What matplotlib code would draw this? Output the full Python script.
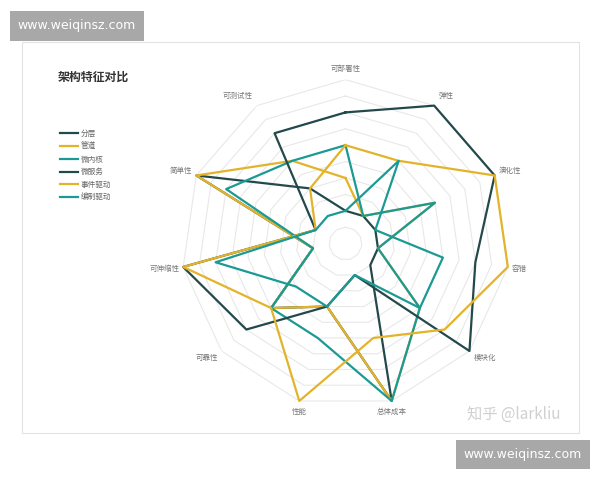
import numpy as np
import matplotlib.pyplot as plt
from matplotlib.patches import Rectangle

plt.rcParams['font.family'] = ['Noto Sans CJK SC', 'DejaVu Sans']

# axes of the radar, clockwise from the top
axis_names = ['可部署性', '弹性', '演化性', '容错', '模块化', '总体成本',
              '性能', '可靠性', '可伸缩性', '简单性', '可测试性']

series_names = ['分层', '管道', '微内核', '微服务', '事件驱动', '编制驱动']
layered = [1, 1, 1, 1, 1, 5, 2, 3, 1, 5, 2]
pipeline = [2, 1, 3, 1, 3, 5, 2, 3, 1, 5, 3]
microkernel = [3, 1, 3, 1, 3, 5, 3, 3, 1, 4, 3]
microservices = [4, 5, 5, 4, 5, 1, 2, 4, 5, 1, 4]
event_driven = [3, 3, 5, 5, 4, 3, 5, 3, 5, 1, 2]
orchestration = [1, 3, 1, 3, 3, 1, 2, 2, 4, 1, 1]
series_values = [layered, pipeline, microkernel, microservices, event_driven, orchestration]

DARK = '#24494b'
YELLOW = '#e3b32a'
TEAL = '#1b9a94'
series_colors = [DARK, YELLOW, TEAL, DARK, YELLOW, TEAL]

W, H = 600, 480


def fx(px):
    return px / W


def fy(py):
    return 1 - py / H


fig = plt.figure(figsize=(6, 4.8), dpi=100)

# chart panel border
fig.add_artist(Rectangle((fx(22), fy(433)), (579 - 22) / W, (433 - 42) / H,
                         transform=fig.transFigure, fill=False,
                         edgecolor='#e3e3e3', lw=0.8))

# radar axes, center (345.5, 243.6) px, radius 164 px
cx, cy, R = 345.5, 243.6, 164
ax = fig.add_axes([fx(cx - R), fy(cy + R), 2 * R / W, 2 * R / H], projection='polar')
ax.set_theta_offset(np.pi / 2)
ax.set_theta_direction(-1)
ax.set_ylim(0, 5)
ax.set_axis_off()

n = len(axis_names)
theta = np.linspace(0, 2 * np.pi, n, endpoint=False)
theta_closed = np.append(theta, theta[0])

# split rings
for level in np.arange(0.5, 5.01, 0.5):
    ax.plot(theta_closed, [level] * (n + 1), color='#e8e8e8', lw=0.8, zorder=1)

lines = []
for name, vals, col in zip(series_names, series_values, series_colors):
    ln, = ax.plot(theta_closed, vals + vals[:1], color=col, lw=1.6,
                  label=name, zorder=3, clip_on=False)
    lines.append(ln)

# axis names
for k, name in enumerate(axis_names):
    phi = np.pi / 2 - theta[k]
    c, s = np.cos(phi), np.sin(phi)
    if c > 0.5:
        ha, dx = 'left', 4
    elif c < -0.5:
        ha, dx = 'right', -4
    else:
        ha, dx = 'center', 0
    dy = 11 * s
    ax.annotate(name, xy=(theta[k], 5), xytext=(dx * 0.72, dy * 0.72),
                textcoords='offset points', ha=ha, va='center',
                fontsize=5.4, color='#777777', annotation_clip=False)

fig.text(fx(58), fy(77), '架构特征对比', fontsize=8.6, fontweight='bold',
         color='#333333', ha='left', va='center')

fig.legend(handles=lines, loc='upper left', bbox_to_anchor=(fx(60), fy(130)),
           frameon=False, fontsize=5.5, handlelength=2.3, handletextpad=0.4,
           labelspacing=0.62, borderpad=0, borderaxespad=0, labelcolor='#666666')

fig.text(fx(514), fy(414), '知乎 @larkliu', fontsize=11, color='#d0d0d0',
         ha='center', va='center')

# site stamps
for (x0, y0, x1, y1) in [(10, 11, 144, 41), (456, 440, 590, 469)]:
    fig.add_artist(Rectangle((fx(x0), fy(y1)), (x1 - x0) / W, (y1 - y0) / H,
                             transform=fig.transFigure, facecolor='#a8a8a8',
                             edgecolor='none'))
    fig.text(fx((x0 + x1) / 2), fy((y0 + y1) / 2), 'www.weiqinsz.com',
             fontsize=9, color='white', ha='center', va='center',
             family='DejaVu Sans')

fig.savefig('out.png', dpi=100)
